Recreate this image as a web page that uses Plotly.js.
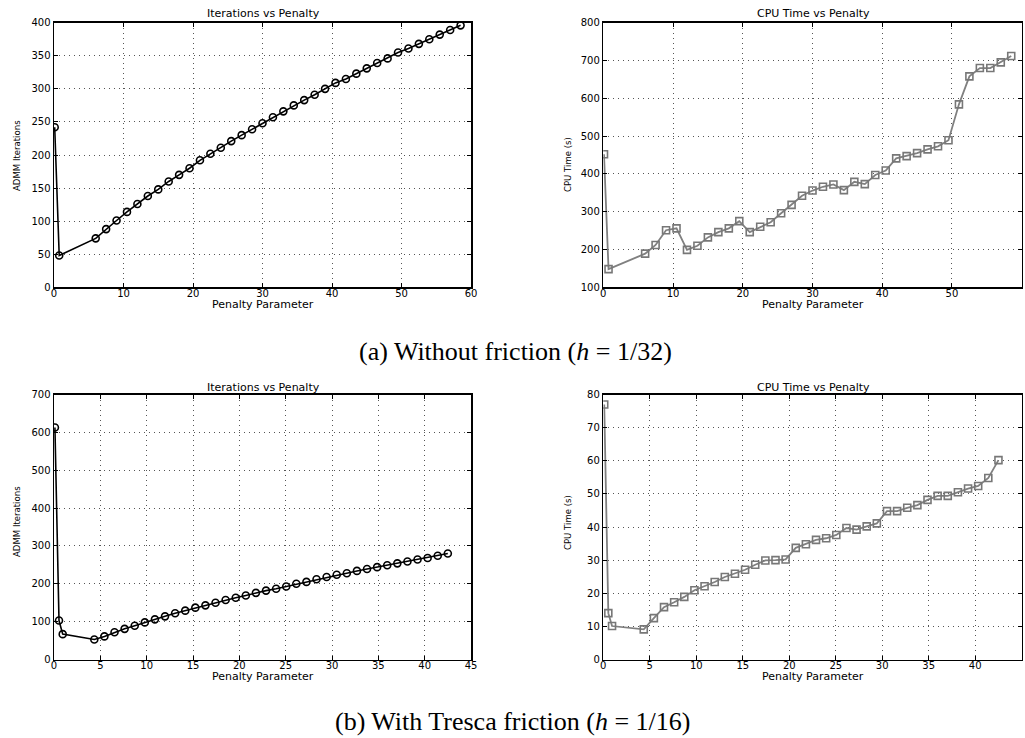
<!DOCTYPE html>
<html>
<head>
<meta charset="utf-8">
<script src="https://cdn.plot.ly/plotly-3.0.1.min.js"></script>
<style>html,body{margin:0;padding:0;background:#fff;}#chart{width:1025px;height:738px;}</style>
</head>
<body>
<div id="chart"></div>
<script>
// ---- data ----
const topPenalty = [0.1, 0.75, 6, 7.5, 9, 10.5, 12, 13.5, 15, 16.5, 18, 19.5, 21, 22.5, 24, 25.5, 27, 28.5, 30, 31.5, 33, 34.5, 36, 37.5, 39, 40.5, 42, 43.5, 45, 46.5, 48, 49.5, 51, 52.5, 54, 55.5, 57, 58.5];
const topIterations = [242, 48, 74, 88, 101, 114, 126, 138, 148, 160, 170, 180, 192, 202, 211, 221, 230, 239, 248, 257, 266, 275, 283, 291, 300, 309, 315, 323, 331, 339, 346, 355, 361, 368, 375, 382, 389, 396];
const topCpuTime = [452, 148, 189, 212, 251, 256, 199, 210, 232, 246, 256, 275, 246, 260, 272, 296, 318, 342, 356, 366, 372, 357, 379, 373, 397, 409, 441, 447, 455, 465, 473, 489, 584, 658, 680, 680, 695, 712];

const botPenalty = [0.1, 0.54, 0.94, 4.35, 5.44, 6.53, 7.62, 8.71, 9.8, 10.89, 11.98, 13.07, 14.16, 15.25, 16.34, 17.43, 18.52, 19.61, 20.7, 21.79, 22.88, 23.97, 25.06, 26.15, 27.24, 28.33, 29.42, 30.51, 31.6, 32.69, 33.78, 34.87, 35.96, 37.05, 38.14, 39.23, 40.32, 41.41, 42.5];
const botIterations = [613, 103, 67, 53, 61, 72, 81, 89, 98, 106, 114, 122, 129, 137, 143, 150, 157, 163, 169, 176, 182, 187, 193, 200, 205, 212, 218, 224, 228, 234, 239, 244, 249, 254, 259, 264, 268, 274, 280];
const botCpuTime = [77, 14, 10.1, 9.1, 12.5, 15.8, 17.3, 18.9, 20.9, 22.1, 23.4, 24.9, 25.9, 27.1, 28.6, 29.9, 30.0, 30.2, 33.7, 34.8, 36.1, 36.6, 37.6, 39.7, 39.2, 40.2, 41.1, 44.8, 44.8, 45.8, 46.6, 48.2, 49.4, 49.4, 50.5, 51.6, 52.4, 54.8, 60.2];

const panelTitles = ["Iterations vs Penalty", "CPU Time vs Penalty"];
const xTitle = "Penalty Parameter";
const yTitles = ["ADMM Iterations", "CPU Time (s)"];
const captions = ["(a) Without friction (<i>h</i> = 1/32)", "(b) With Tresca friction (<i>h</i> = 1/16)"];

// ---- helpers ----
const W = 1025, H = 738;
const px = v => v / W;
const py = v => 1 - v / H;

const tickFont = {family: "DejaVu Sans, Liberation Sans, sans-serif", size: 10, color: "#000"};
function axis(extra) {
  return Object.assign({
    showline: true, linecolor: "#000", linewidth: 1.5, mirror: "ticks",
    ticks: "inside", ticklen: 4, tickcolor: "#000", tickwidth: 1,
    showgrid: true, gridcolor: "#555", gridwidth: 1, griddash: "1px,4px",
    zeroline: false, tickfont: tickFont, fixedrange: true
  }, extra);
}
function xaxis(extra) { return axis(Object.assign({ticklabelstandoff: -4}, extra)); }

const blackStyle = {
  mode: "lines+markers",
  line: {color: "#000", width: 1.6},
  marker: {symbol: "circle-open", size: 7, color: "#000", line: {width: 1.6, color: "#000"}}
};
const grayStyle = {
  mode: "lines+markers",
  line: {color: "#808080", width: 1.8},
  marker: {symbol: "square-open", size: 7, color: "#777", line: {width: 1.6, color: "#777"}}
};

const traces = [
  Object.assign({x: topPenalty, y: topIterations, xaxis: "x", yaxis: "y"}, blackStyle),
  Object.assign({x: topPenalty, y: topCpuTime, xaxis: "x2", yaxis: "y2"}, grayStyle),
  Object.assign({x: botPenalty, y: botIterations, xaxis: "x3", yaxis: "y3"}, blackStyle),
  Object.assign({x: botPenalty, y: botCpuTime, xaxis: "x4", yaxis: "y4"}, grayStyle)
];

const leftDom = [px(54), px(471)];
const rightDom = [px(603.3), px(1021.7)];
const topDom = [py(287.3), py(22.7)];
const botDom = [py(659.5), py(394.5)];

const smallFont = {family: "DejaVu Sans, Liberation Sans, sans-serif", size: 11, color: "#000"};
const narrowFont = {family: "Liberation Sans Narrow, DejaVu Sans Condensed, sans-serif", size: 9.5, color: "#000"};
const capFont = {family: "Liberation Serif, DejaVu Serif, serif", size: 26, color: "#000"};

function ann(text, x, y, font, angle) {
  return {text: text, xref: "paper", yref: "paper", x: px(x), y: py(y),
          xanchor: "center", yanchor: "middle", showarrow: false, font: font, textangle: angle || 0};
}

const annotations = [
  ann(panelTitles[0], 263, 13, smallFont),
  ann(panelTitles[1], 813, 13, smallFont),
  ann(panelTitles[0], 263, 387, smallFont),
  ann(panelTitles[1], 813, 387, smallFont),
  ann(xTitle, 263, 304, smallFont),
  ann(xTitle, 813, 304, smallFont),
  ann(xTitle, 263, 676, smallFont),
  ann(xTitle, 813, 676, smallFont),
  ann(yTitles[0], 16, 156, narrowFont, -90),
  ann(yTitles[1], 567, 165, narrowFont, -90),
  ann(yTitles[0], 16, 522, narrowFont, -90),
  ann(yTitles[1], 567, 523, narrowFont, -90),
  ann(captions[0], 515, 352, capFont),
  ann(captions[1], 512, 721, capFont)
];

const layout = {
  width: W, height: H,
  margin: {l: 0, r: 0, t: 0, b: 0, pad: 0},
  paper_bgcolor: "#fff", plot_bgcolor: "#fff",
  showlegend: false,
  xaxis: xaxis({domain: leftDom, range: [0, 60], dtick: 10, anchor: "y"}),
  yaxis: axis({domain: topDom, range: [0, 400], dtick: 50, anchor: "x"}),
  xaxis2: xaxis({domain: rightDom, range: [0, 60], dtick: 10, anchor: "y2"}),
  yaxis2: axis({domain: topDom, range: [100, 800], dtick: 100, anchor: "x2"}),
  xaxis3: xaxis({domain: leftDom, range: [0, 45], dtick: 5, anchor: "y3"}),
  yaxis3: axis({domain: botDom, range: [0, 700], dtick: 100, anchor: "x3"}),
  xaxis4: xaxis({domain: rightDom, range: [0, 45], dtick: 5, anchor: "y4"}),
  yaxis4: axis({domain: botDom, range: [0, 80], dtick: 10, anchor: "x4"}),
  annotations: annotations
};

Plotly.newPlot("chart", traces, layout, {displayModeBar: false, staticPlot: true});
</script>
</body>
</html>
